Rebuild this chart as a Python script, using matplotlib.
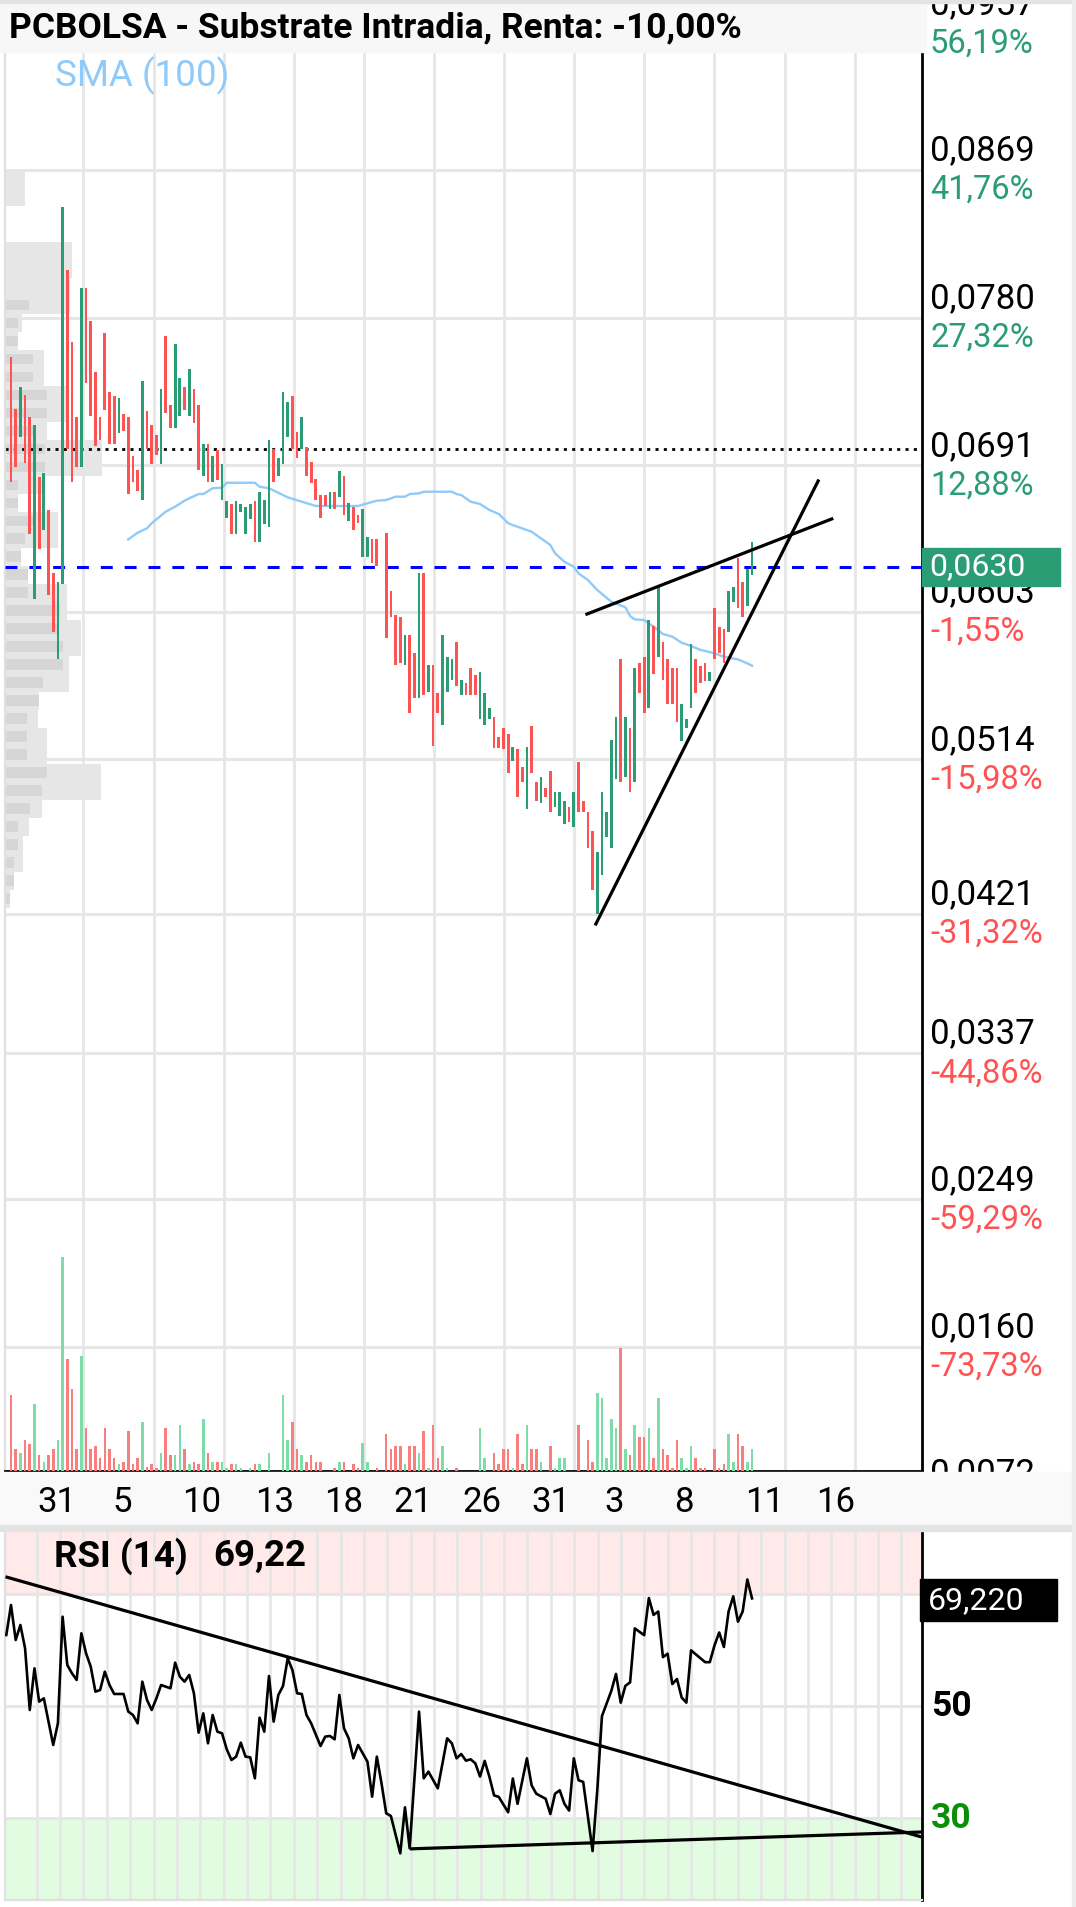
import numpy as np
import matplotlib
matplotlib.use('Agg')
import matplotlib.pyplot as plt
import matplotlib.transforms as mtransforms
from matplotlib.patches import Rectangle

plt.rcParams['font.family'] = ['Roboto', 'DejaVu Sans']

W, H = 1076, 1907

# ---------------- data (prices in thousandths: 63.0 -> 0,0630) ----------------
opens = [75.65, 72.53, 70.83, 73.34, 72.03, 61.08, 68.41, 65.20, 66.44, 62.63,
         57.46, 61.98, 80.88, 76.55, 72.03, 69.02, 79.81, 77.82, 74.75, 72.03,
         77.10, 73.50, 73.30, 71.03, 72.23, 72.03, 69.68, 68.82, 67.01, 72.39,
         71.51, 70.93, 69.18, 76.92, 72.76, 71.37, 72.07, 73.84, 72.07, 73.68,
         72.74, 68.45, 70.42, 68.11, 70.06, 67.01, 65.94, 66.81, 65.00, 66.30,
         65.00, 65.90, 66.97, 64.49, 65.57, 65.37, 70.07, 68.47, 69.19, 70.79,
         73.30, 71.14, 70.09, 70.23, 69.33, 68.26, 67.32, 67.32, 66.46, 67.52,
         67.22, 68.47, 65.75, 66.62, 66.12, 63.57, 63.57, 64.65, 64.65, np.nan,
         65.01, 61.56, 60.09, 59.95, 57.08, 58.89, 57.78, 55.07, 62.64, 55.47,
         57.08, 55.41, 53.46, 55.47, 56.18, 58.48, 55.27, 55.98, 56.88, 56.48,
         53.81, 53.46, 53.81, 53.97, 52.72, 53.27, 52.91, 51.32, 52.00, 50.92,
         48.39, 53.43, 50.02, 48.75, 49.66, 50.72, 48.55, 48.01, 47.51, 48.55,
         47.35, 51.26, 48.91, 48.21, 47.11, 42.07, 44.43, 46.74, 46.04, 50.20,
         57.43, 50.36, 53.27, 50.02, 57.23, 57.59, 54.51, 59.43, 57.59, 58.49,
         57.43, 56.88, 56.88, 52.53, 53.27, 54.51, 57.43, 57.05, 57.23, 56.14,
         60.50, 59.39, 59.23, 59.05, 60.90, 63.51, 62.11, 60.66, 62.51]
closes = [68.11, 69.02, 73.84, 69.22, 65.00, 71.53, 64.09, 68.62, 61.28, 59.07,
          62.08, 84.70, 70.12, 68.11, 69.02, 79.81, 74.08, 72.07, 70.26, 70.63,
          72.43, 70.42, 70.42, 73.14, 71.19, 67.37, 68.09, 67.55, 74.20, 70.12,
          69.18, 69.72, 73.68, 72.27, 71.37, 76.39, 74.38, 72.43, 74.93, 71.63,
          68.82, 70.42, 68.11, 69.68, 68.25, 69.18, 66.97, 65.00, 66.97, 66.81,
          66.61, 66.81, 64.49, 67.51, 67.02, 70.63, 68.12, 69.53, 73.51, 72.94,
          70.09, 69.53, 72.04, 68.47, 68.06, 67.02, 65.91, 66.66, 67.52, 66.46,
          68.79, 66.12, 66.82, 65.21, 65.61, 66.46, 64.81, 63.24, 63.04, np.nan,
          58.69, 59.99, 57.08, 57.22, 58.89, 54.17, 55.07, 62.64, 55.27, 57.08,
          52.20, 54.17, 58.89, 57.58, 57.42, 55.81, 56.18, 55.27, 55.27, 55.27,
          56.68, 55.41, 54.47, 52.06, 52.06, 52.00, 50.56, 52.17, 49.11, 50.02,
          52.17, 50.56, 48.91, 50.36, 49.11, 48.21, 49.46, 49.46, 48.91, 47.65,
          49.46, 48.21, 48.21, 46.04, 43.53, 45.84, 49.46, 48.21, 52.57, 53.97,
          50.02, 53.97, 49.46, 56.88, 55.42, 54.17, 59.80, 56.52, 61.80, 56.18,
          54.72, 54.72, 53.63, 54.72, 53.81, 58.33, 55.42, 55.98, 56.14, 56.68,
          57.43, 57.79, 57.23, 61.56, 61.76, 60.50, 59.96, 62.85, 64.47]
volumes = [76, 22, 18, 31, 27, 67, 16, 9, 16, 22, 31, 214, 112, 82, 22, 115, 43, 22, 25, 13,
           43, 22, 13, 7, 9, 40, 7, 13, 49, 4, 7, 3, 18, 43, 16, 16, 46, 22, 7, 9,
           7, 52, 18, 9, 9, 9, 3, 7, 7, 3, 0, 3, 7, 7, 0, 18, 0, 0, 76, 31,
           49, 22, 16, 9, 16, 9, 9, 0, 0, 3, 9, 9, 0, 7, 3, 28, 9, 0, 3, 0,
           37, 22, 25, 25, 7, 25, 25, 18, 40, 3, 46, 13, 25, 3, 0, 3, 0, 0, 0, 0,
           43, 13, 0, 18, 7, 22, 22, 3, 37, 7, 46, 22, 22, 9, 0, 25, 3, 13, 13, 0,
           0, 46, 0, 31, 9, 78, 73, 13, 52, 43, 123, 22, 16, 46, 34, 34, 43, 13, 73, 22,
           16, 3, 31, 13, 3, 25, 13, 3, 3, 0, 22, 3, 7, 37, 9, 37, 25, 9, 22]

sma_idx = [25, 27, 29, 30, 33, 35, 37, 38, 40, 41, 43, 45, 46, 52, 53, 55, 58, 59, 62, 65,
           74, 76, 78, 80, 82, 84, 85, 87, 88, 94, 95, 96, 98, 100, 102, 104, 106, 107, 109, 111,
           113, 115, 116, 118, 120, 121, 123, 125, 128, 131, 132, 133, 135, 137, 139, 141, 143, 145, 147, 150,
           152, 155, 157, 158]
sma_val = [64.65, 65.05, 65.32, 65.62, 66.32, 66.62, 66.98, 67.12, 67.38, 67.38, 67.73, 67.76, 68.06, 68.06,
           67.82, 67.73, 67.32, 67.18, 66.92, 66.66, 66.66, 66.82, 66.98, 67.02, 67.22, 67.22, 67.38, 67.42,
           67.52, 67.52, 67.38, 67.32, 66.92, 66.78, 66.42, 66.18, 65.62, 65.51, 65.31, 65.11, 64.71, 64.31,
           63.81, 63.30, 63.00, 62.60, 62.20, 61.60, 60.89, 60.56, 60.03, 59.83, 59.79, 59.39, 58.95, 58.79,
           58.42, 58.23, 57.99, 57.79, 57.58, 57.42, 57.18, 57.04]

rsi_idx = [-1, 0, 1, 2, 3, 4, 5, 6, 7, 8, 9, 10, 11, 12, 13, 14, 15, 16, 17, 18,
           19, 20, 21, 22, 24, 25, 26, 27, 28, 29, 30, 31, 32, 34, 35, 36, 37, 38, 39, 40,
           41, 42, 43, 44, 45, 46, 47, 48, 49, 50, 51, 52, 53, 54, 55, 56, 57, 58, 59, 60,
           61, 62, 63, 64, 66, 67, 68, 69, 70, 71, 72, 73, 74, 76, 77, 78, 79, 80, 81, 83,
           84, 85, 87, 88, 89, 91, 93, 94, 95, 96, 97, 98, 99, 100, 101, 102, 103, 104, 106, 107,
           108, 110, 111, 112, 114, 115, 116, 117, 118, 119, 120, 121, 122, 124, 125, 126, 128, 129, 130, 131,
           132, 133, 135, 136, 137, 138, 139, 140, 141, 142, 143, 144, 145, 148, 149, 150, 151, 152, 153, 154,
           155, 156, 157, 158]
rsi_val = [62.68, 68.04, 61.79, 64.47, 60.30, 49.29, 56.73, 50.78, 51.37, 47.21, 43.04, 46.91, 65.95, 57.32,
           55.84, 54.65, 62.98, 59.41, 57.03, 52.56, 52.86, 56.13, 53.75, 52.15, 52.15, 49.00, 48.40, 46.91,
           54.35, 51.07, 49.29, 51.37, 53.75, 53.16, 57.74, 55.24, 54.35, 55.54, 52.27, 45.24, 48.69, 43.34,
           48.40, 45.42, 45.12, 42.27, 40.36, 40.96, 43.46, 40.96, 40.84, 37.09, 47.92, 45.42, 55.36, 47.21,
           51.97, 53.57, 58.51, 56.43, 52.27, 52.15, 48.40, 46.91, 42.86, 44.53, 44.65, 44.05, 51.97, 46.02,
           44.23, 40.66, 43.04, 40.06, 33.81, 40.96, 36.19, 30.84, 30.36, 23.70, 31.91, 24.59, 49.00, 37.09,
           38.28, 35.30, 44.23, 43.34, 40.66, 41.43, 40.24, 40.48, 39.77, 37.40, 40.20, 37.37, 34.04, 33.77,
           31.02, 37.05, 32.53, 40.66, 35.84, 34.34, 33.43, 30.72, 34.34, 34.94, 32.53, 31.33, 40.66, 36.75,
           36.45, 24.10, 34.94, 48.19, 52.71, 55.72, 50.60, 53.61, 54.22, 63.86, 62.65, 69.28, 66.27, 66.87,
           58.73, 59.34, 53.92, 54.82, 51.51, 50.60, 59.94, 57.83, 57.83, 60.84, 63.13, 60.54, 66.87, 69.58,
           65.06, 66.87, 72.59, 69.22]

# visible-range volume profile, rows from the top price down
profile_hi = 86.9
profile_bin = 1.084
profile_total = [20, 20, 0, 0, 67, 67, 65, 65, 17, 13, 39, 39, 62, 62, 42, 97, 97, 40, 13, 53, 53,
                 16, 23, 62, 62, 76, 76, 64, 64, 34, 33, 42, 42, 96, 96, 37, 24, 18, 18, 9, 5]
profile_dark = [0, 0, 0, 0, 0, 0, 0, 24, 13, 13, 28, 28, 42, 42, 30, 40, 40, 13, 13, 28, 20,
                16, 23, 23, 55, 53, 58, 58, 38, 34, 22, 22, 22, 42, 37, 25, 13, 13, 9, 9, 5]

price_ticks = [95.7, 86.9, 78.0, 69.1, 60.3, 51.4, 42.1, 33.7, 24.9, 16.0, 7.2]
price_labels = ['0,0957', '0,0869', '0,0780', '0,0691', '0,0603', '0,0514', '0,0421',
                '0,0337', '0,0249', '0,0160', '0,0072']
pct_labels = ['56,19%', '41,76%', '27,32%', '12,88%', '-1,55%', '-15,98%', '-31,32%',
              '-44,86%', '-59,29%', '-73,73%', '-88,24%']

day_labels = ['31', '5', '10', '13', '18', '21', '26', '31', '3', '8', '11', '16']
day_pos = [9.8, 23.8, 40.6, 56.1, 71.0, 85.6, 100.4, 115.1, 128.7, 143.4, 160.7, 175.9]

last_price = 63.0
ref_price = 70.09
wedge_low = ([124.7, 172.1], [41.48, 68.17])
wedge_high = ([122.8, 175.0], [60.15, 65.88])
rsi_last = 69.22
rsi_down = ([-0.85, 194.2], [73.0, 26.6])
rsi_flat = ([85.4, 194.2], [24.5, 27.5])

# ---------------- style ----------------
GREEN = '#2a9d74'
RED = '#ff5252'
GRID = '#e6e6e6'
BORDER = '#e0e0e0'

X_LEFT, X_RIGHT = -1.28, 194.24


def fx(px):
    return px / W


def fy(py):
    return 1 - py / H


fig = plt.figure(figsize=(W / 100, H / 100), dpi=100)
fig.patch.set_facecolor('white')

# ---------------- price pane ----------------
main = fig.add_axes([fx(5), fy(1471), fx(922) - fx(5), 1471 / H])
main.set_xlim(X_LEFT, X_RIGHT)
main.set_ylim(8.53, 97.14)
main.set_xticks([])
main.set_yticks([])
main.spines['top'].set_visible(False)
main.spines['left'].set_color(BORDER)
main.spines['left'].set_linewidth(1.6)
main.spines['right'].set_color('black')
main.spines['right'].set_linewidth(2.0)
main.spines['bottom'].set_color('black')
main.spines['bottom'].set_linewidth(2.0)

for p in price_ticks:
    main.axhline(p, color=GRID, lw=2.2, zorder=0.5)
grid_days = np.arange(5.48, X_RIGHT, 4.983)
for g in grid_days[2::3]:
    main.axvline(g, color=GRID, lw=2.0, zorder=0.5)

# volume profile on the left edge
rows = profile_hi - profile_bin * (np.arange(len(profile_total)) + 0.5)
prof_scale = 0.106 * (X_RIGHT - X_LEFT) / max(profile_total)
main.barh(rows, np.array(profile_total) * prof_scale, left=X_LEFT, height=profile_bin,
          color='#e6e6e6', zorder=1)
main.barh(rows, np.array(profile_dark) * prof_scale, left=X_LEFT, height=profile_bin * 0.6,
          color='#d6d6d6', zorder=1.1)

# candles
o = np.array(opens)
c = np.array(closes)
idx = np.arange(len(o))
ok = ~np.isnan(o)
up = c >= o
cols = np.where(up, GREEN, RED)
body_lo = np.minimum(o, c)
body_h = np.maximum(np.abs(c - o), 0.35)
main.bar(idx[ok], body_h[ok], bottom=body_lo[ok], width=0.58, color=cols[ok], zorder=3)

# SMA (100)
main.plot(sma_idx, sma_val, color='#90caf9', lw=1.7, zorder=2.5)

# horizontal lines
main.axhline(ref_price, color='black', lw=2.0, linestyle=(0, (1.1, 1.9)), zorder=2)
main.axhline(last_price, color='#0000ff', lw=2.2, linestyle=(0, (3.9, 3.9)), zorder=2.6)

# wedge
main.plot(*wedge_low, color='black', lw=2.3, zorder=4)
main.plot(*wedge_high, color='black', lw=2.3, zorder=4)

# price scale labels
blend_main = mtransforms.blended_transform_factory(fig.transFigure, main.transData)
for p, lab, pct in zip(price_ticks, price_labels, pct_labels):
    pc = RED if pct.startswith('-') else GREEN
    main.annotate(lab, xy=(fx(930), p), xycoords=blend_main, xytext=(0, 13.7),
                  textcoords='offset points', ha='left', va='center', fontsize=25,
                  color='black', annotation_clip=False)
    main.annotate(pct, xy=(fx(930), p), xycoords=blend_main, xytext=(0, -14.4),
                  textcoords='offset points', ha='left', va='center', fontsize=23.5,
                  color=pc, annotation_clip=False)

main.add_patch(Rectangle((fx(922), last_price - 1.15), fx(1060) - fx(922), 2.3,
                         transform=blend_main, color=GREEN, clip_on=False, zorder=10))
main.annotate('0,0630', xy=(fx(929), last_price), xycoords=blend_main, ha='left',
              va='center', fontsize=23, color='white', annotation_clip=False, zorder=11)

# volume bars
vol = fig.add_axes([fx(5), fy(1471), fx(922) - fx(5), 400 / H])
vol.set_xlim(X_LEFT, X_RIGHT)
vol.set_ylim(0, 400)
vol.axis('off')
vol.patch.set_visible(False)
vcols = np.where(up | ~ok, '#7ddca8', '#f97f7f')
vol.bar(idx, volumes, width=0.55, color=vcols)

# ---------------- RSI pane ----------------
rsi = fig.add_axes([fx(5), fy(1900), fx(922) - fx(5), 370 / H])
rsi.set_xlim(X_LEFT, X_RIGHT)
rsi.set_ylim(15.36, 81.43)
rsi.set_xticks([])
rsi.set_yticks([])
rsi.spines['top'].set_visible(False)
for s in ['left', 'bottom']:
    rsi.spines[s].set_color(BORDER)
    rsi.spines[s].set_linewidth(1.6)
rsi.spines['right'].set_color('black')
rsi.spines['right'].set_linewidth(2.0)

rsi.axhspan(70, 81.43, color='#ffe9e9', zorder=0.2)
rsi.axhspan(15.36, 30, color='#e1fce1', zorder=0.2)
for g in grid_days:
    rsi.axvline(g, color=GRID, lw=1.9, zorder=0.5)
for lvl in [70, 50, 30]:
    rsi.axhline(lvl, color=GRID, lw=2.2, zorder=0.6)

rsi.plot(rsi_idx, rsi_val, color='black', lw=1.9, zorder=4)
rsi.plot(*rsi_down, color='black', lw=2.3, zorder=4)
rsi.plot(*rsi_flat, color='black', lw=2.3, zorder=4)

blend_rsi = mtransforms.blended_transform_factory(fig.transFigure, rsi.transData)
rsi.annotate('70', xy=(fx(931), 70), xycoords=blend_rsi, ha='left', va='center',
             fontsize=25.5, fontweight='bold', color='#e81010', annotation_clip=False)
rsi.annotate('50', xy=(fx(931), 50), xycoords=blend_rsi, ha='left', va='center',
             fontsize=25.5, fontweight='bold', color='black', annotation_clip=False)
rsi.annotate('30', xy=(fx(931), 30), xycoords=blend_rsi, ha='left', va='center',
             fontsize=25.5, fontweight='bold', color='#0a8f0a', annotation_clip=False)
rsi.add_patch(Rectangle((fx(920), 68.9 - 3.75), fx(1057) - fx(920), 7.5,
                        transform=blend_rsi, color='black', clip_on=False, zorder=10))
rsi.annotate('69,220', xy=(fx(928), 68.9), xycoords=blend_rsi, ha='left', va='center',
             fontsize=23, color='white', annotation_clip=False, zorder=11)

# ---------------- frame pieces ----------------
fig.add_artist(Rectangle((0, fy(52)), fx(926), (52 - 3) / H, color='#f7f7f7', zorder=1))
fig.add_artist(Rectangle((0, fy(3)), 1, 3 / H, color='#e3e3e3', zorder=1))
fig.add_artist(Rectangle((0, fy(1525)), 1, (1525 - 1472) / H, color='#f9f9f9', zorder=1))
fig.add_artist(Rectangle((0, fy(1531)), 1, 6 / H, color='#e3e3e3', zorder=1))
fig.add_artist(Rectangle((fx(1072), 0), fx(4), 1, color='#ececec', zorder=1))

fig.text(fx(9), fy(28), 'PCBOLSA - Substrate Intradia, Renta: -10,00%', fontsize=25.5,
         fontweight='bold', ha='left', va='center', zorder=3)
fig.text(fx(55), fy(76), 'SMA (100)', fontsize=26.5, color='#90caf9', ha='left', va='center', zorder=3)

blend_days = mtransforms.blended_transform_factory(main.transData, fig.transFigure)
for pos, lab in zip(day_pos, day_labels):
    fig.text(pos, fy(1502), lab, transform=blend_days, ha='center', va='center',
             fontsize=25, color='black', zorder=3)

fig.text(fx(54), fy(1556), 'RSI (14)', fontsize=26.5, fontweight='bold', ha='left', va='center', zorder=3)
fig.text(fx(213), fy(1556), f'{rsi_last:.2f}'.replace('.', ','), fontsize=26.5, fontweight='bold',
         ha='left', va='center', zorder=3)

fig.savefig('out.png', dpi=100, facecolor='white')
plt.close(fig)
